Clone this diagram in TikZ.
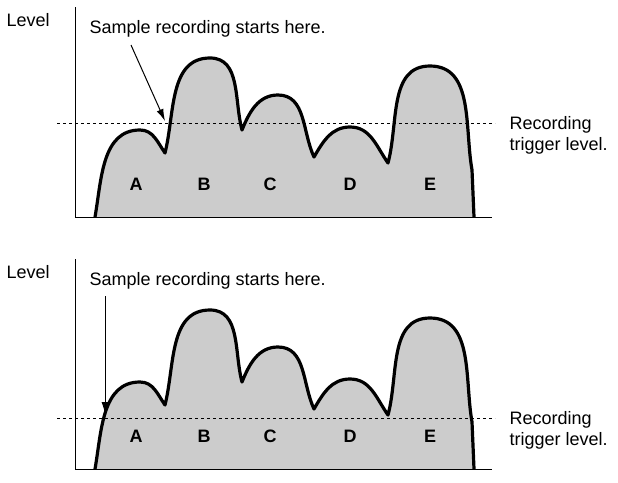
\documentclass[tikz,border=0pt]{standalone}
\usepackage{fontspec}
\setmainfont{Liberation Sans}
\usetikzlibrary{arrows.meta}
\begin{document}
\begin{tikzpicture}[x=1pt, y=1pt, font=\fontsize{18}{21}\selectfont]

        % Styles
        \tikzstyle{signal} = [line width=3.2pt, line join=round, fill=black!20, draw=black]
        \tikzstyle{axis} = [line width=1pt]
        \tikzstyle{trigger} = [dashed, line width=1pt]
        \tikzstyle{hump} = [font=\bfseries\fontsize{18}{21}\selectfont]
        \tikzstyle{pointer} = [-{Latex[length=12pt, width=7pt]}, line width=1pt]

        \useasboundingbox (0,0) rectangle (618,-482);

        \foreach \dy/\ty/\pn in {0/123/top, 252/166/bot} {
        \begin{scope}[yshift=-\dy pt]
            % Signal envelope
            \draw[signal] (95,-217) to[out=80,in=180] (140,-130) to[out=0,in=125] (165,-153)
                to[out=76,in=180] (210,-58) to[out=0,in=105] (242,-130)
                to[out=68,in=180] (278,-95) to[out=0,in=115] (314,-157)
                to[out=60,in=180] (350,-127) to[out=0,in=125] (388,-163)
                to[out=75,in=180] (430,-66) to[out=0,in=100] (472,-170) -- (474,-217);

            % Axes
            \draw[axis] (75,-7) -- (75,-217) -- (492,-217);
            \node[anchor=west] (level-\pn) at (3,-20) {Level};

            % Trigger level
            \draw[trigger] (57,-\ty) -- (495,-\ty);
            \node[anchor=west, align=left] (trig-\pn) at (506,-\ty-12) {Recording\\trigger level.};

            % Hump labels
            \node[hump] (A-\pn) at (136,-184) {A};
            \node[hump] (B-\pn) at (204,-184) {B};
            \node[hump] (C-\pn) at (270,-184) {C};
            \node[hump] (D-\pn) at (350,-184) {D};
            \node[hump] (E-\pn) at (430,-184) {E};

            \node[anchor=west] (start-\pn) at (86,-29) {Sample recording starts here.};
        \end{scope}
        }

        % Start points
        \coordinate (s-top) at (165,-121);
        \coordinate (s-bot) at (105,-414);
        \draw[pointer] (131,-45) -- (s-top);
        \draw[pointer] (105,-296) -- (s-bot);

    \end{tikzpicture}
\end{document}
